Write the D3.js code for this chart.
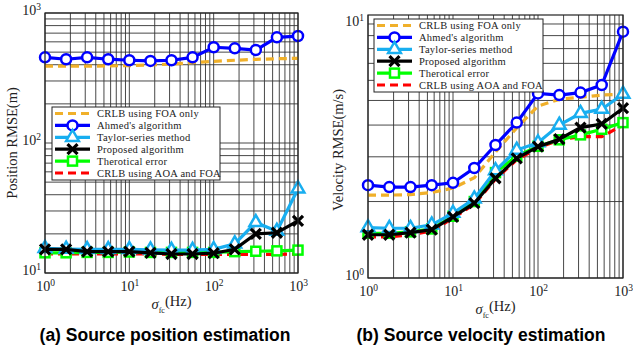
<!DOCTYPE html>
<html>
<head>
<meta charset="utf-8">
<script src="https://cdn.jsdelivr.net/npm/d3@7"></script>
<style>
  body { margin: 0; background: #fff; }
  svg { display: block; }
</style>
</head>
<body>
<svg id="chart" width="633" height="349"></svg>
<script>
// sigma_fc values (Hz), quarter decades from 1 to 1000
const sigmaFc = [1, 1.78, 3.16, 5.62, 10, 17.8, 31.6, 56.2, 100, 178, 316, 562, 1000];

// (a) position RMSE (m)
const posCrlbFoa  = [390, 390, 390, 392, 394, 398, 405, 415, 425, 433, 440, 445, 448];
const posAhmed    = [456, 441, 456, 441, 433, 428, 433, 456, 545, 535, 519, 650, 665];
const posTaylor   = [15.5, 15.3, 15.2, 15.2, 15.2, 15.1, 15.0, 15.0, 15.2, 16.8, 24.5, 21.0, 44.5];
const posProposed = [15.2, 15.2, 14.6, 14.6, 14.6, 14.3, 14.0, 14.0, 14.2, 15.2, 20.0, 20.4, 25.2];
const posTheory   = [14.3, 14.3, 14.4, 14.4, 14.5, 14.4, 14.4, 14.4, 14.4, 14.6, 14.7, 14.8, 15.0];
const posCrlbAoa  = [14.0, 14.0, 14.0, 14.0, 14.0, 14.0, 13.9, 13.9, 13.9, 13.9, 13.9, 13.9, 14.0];

// (b) velocity RMSE (m/s)
const velCrlbFoa  = [2.12, 2.12, 2.13, 2.17, 2.26, 2.48, 3.13, 3.9, 4.75, 5.05, 5.15, 5.25, 5.3];
const velAhmed    = [2.32, 2.28, 2.28, 2.32, 2.37, 2.71, 3.34, 4.09, 5.33, 5.25, 5.37, 5.75, 9.33];
const velTaylor   = [1.58, 1.57, 1.57, 1.62, 1.8, 2.05, 2.65, 3.19, 3.41, 4.0, 4.45, 4.62, 5.3];
const velProposed = [1.48, 1.48, 1.51, 1.55, 1.74, 1.97, 2.47, 2.96, 3.29, 3.52, 3.91, 4.04, 4.66];
const velTheory   = [1.5, 1.5, 1.52, 1.56, 1.75, 2.0, 2.6, 3.02, 3.3, 3.5, 3.66, 3.85, 4.09];
const velCrlbAoa  = [1.45, 1.45, 1.48, 1.53, 1.72, 1.95, 2.45, 2.92, 3.25, 3.5, 3.6, 3.6, 4.0];

const legendNames = ["CRLB using FOA only", "Ahmed's algorithm", "Taylor-series method",
  "Proposed algorithm", "Therotical error", "CRLB using AOA and FOA"];

// series styles, in legend order
const styles = [
  { color: "#f0b02a", dash: "8,5", marker: null },
  { color: "#0000ff", dash: null, marker: "circle" },
  { color: "#18aef0", dash: null, marker: "triangle" },
  { color: "#000000", dash: null, marker: "x" },
  { color: "#00ff00", dash: null, marker: "square" },
  { color: "#ff0000", dash: "8,5", marker: null }
];
// draw order: FOA, AOA, theory, Taylor, Ahmed, proposed
const drawOrder = [0, 5, 4, 2, 1, 3];

const svg = d3.select("#chart");

function drawMarker(g, type, color, cx, cy) {
  if (type === "circle") {
    g.append("circle").attr("cx", cx).attr("cy", cy).attr("r", 5)
      .attr("fill", "#fff").attr("stroke", color).attr("stroke-width", 2.5);
  } else if (type === "square") {
    g.append("rect").attr("x", cx - 4.5).attr("y", cy - 4.5).attr("width", 9).attr("height", 9)
      .attr("fill", "#fff").attr("stroke", color).attr("stroke-width", 2.5);
  } else if (type === "triangle") {
    g.append("path").attr("transform", `translate(${cx},${cy})`)
      .attr("d", d3.symbol(d3.symbolTriangle, 70)())
      .attr("fill", "#fff").attr("stroke", color).attr("stroke-width", 2.5);
  } else if (type === "x") {
    const s = 5;
    g.append("path").attr("d", `M${cx - s},${cy - s}L${cx + s},${cy + s}M${cx - s},${cy + s}L${cx + s},${cy - s}`)
      .attr("stroke", color).attr("stroke-width", 3.2).attr("fill", "none");
  }
}

function powLabel(sel, v) {
  const e = Math.round(Math.log10(v));
  sel.text(null);
  sel.append("tspan").text("10");
  sel.append("tspan").attr("dy", "-0.5em").attr("font-size", "9.5px").text(e);
}

function drawPanel(p) {
  const x = d3.scaleLog().domain([1, 1000]).range([p.left, p.right]);
  const y = d3.scaleLog().domain(p.yDomain).range([p.bottom, p.top]);
  const g = svg.append("g");

  // grid
  const grid = g.append("g").attr("stroke", "#333").attr("stroke-width", 0.9);
  grid.selectAll(".vx").data(x.ticks()).join("line")
    .attr("x1", d => x(d)).attr("x2", d => x(d)).attr("y1", p.top).attr("y2", p.bottom);
  grid.selectAll(".hy").data(y.ticks().filter(d => d >= p.yDomain[0] && d <= p.yDomain[1])).join("line")
    .attr("y1", d => y(d)).attr("y2", d => y(d)).attr("x1", p.left).attr("x2", p.right);

  // series
  const marks = g.append("g");
  drawOrder.forEach(i => {
    const st = styles[i];
    const vals = p.series[i];
    const pts = sigmaFc.map((s, k) => [x(s), y(vals[k])]);
    marks.append("path").attr("d", d3.line()(pts))
      .attr("fill", "none").attr("stroke", st.color).attr("stroke-width", 3.2)
      .attr("stroke-dasharray", st.dash);
    if (st.marker) pts.forEach(pt => drawMarker(marks, st.marker, st.color, pt[0], pt[1]));
  });

  // frame
  g.append("rect").attr("x", p.left).attr("y", p.top)
    .attr("width", p.right - p.left).attr("height", p.bottom - p.top)
    .attr("fill", "none").attr("stroke", "#222").attr("stroke-width", 1.2);

  // axes labels (powers of ten)
  const xAxis = g.append("g").attr("transform", `translate(0,${p.bottom})`)
    .call(d3.axisBottom(x).tickValues([1, 10, 100, 1000]).tickSize(0).tickPadding(8));
  xAxis.select(".domain").remove();
  xAxis.selectAll("text").attr("font-family", "Liberation Serif").attr("font-size", 14)
    .attr("fill", "#222").each(function (d) { powLabel(d3.select(this), d); });

  const yAxis = g.append("g").attr("transform", `translate(${p.left},0)`)
    .call(d3.axisLeft(y).tickValues(p.yTicks).tickSize(0).tickPadding(4));
  yAxis.select(".domain").remove();
  yAxis.selectAll("text").attr("font-family", "Liberation Serif").attr("font-size", 14)
    .attr("fill", "#222").attr("dy", "0.1em").each(function (d) { powLabel(d3.select(this), d); });

  // axis titles
  const xt = g.append("text").attr("x", (p.left + p.right) / 2).attr("y", p.bottom + 36)
    .attr("text-anchor", "middle").attr("font-family", "Liberation Serif").attr("font-size", 14.5)
    .attr("fill", "#222");
  xt.append("tspan").attr("font-style", "italic").text("σ");
  xt.append("tspan").attr("font-size", "8px").attr("dy", "0.45em").text("fc");
  xt.append("tspan").attr("dy", "-0.45em").text("(Hz)");

  g.append("text").attr("transform", `translate(${p.yTitleX},${p.yTitleY}) rotate(-90)`)
    .attr("text-anchor", "middle").attr("font-family", "Liberation Serif").attr("font-size", 14.5)
    .attr("fill", "#222").text(p.yTitle);

  // caption
  g.append("text").attr("x", p.capX).attr("y", 341)
    .attr("text-anchor", "middle").attr("font-family", "Liberation Sans").attr("font-weight", "bold")
    .attr("font-size", 17.5).attr("fill", "#000").text(p.caption);

  // legend
  const lg = g.append("g").attr("transform", `translate(${p.legX},${p.legY})`);
  lg.append("rect").attr("width", p.legW).attr("height", 73)
    .attr("fill", "#fff").attr("stroke", "#222").attr("stroke-width", 1);
  legendNames.forEach((name, i) => {
    const st = styles[i];
    const ry = 6.5 + i * 11.9;
    lg.append("line").attr("x1", 3).attr("x2", 38).attr("y1", ry).attr("y2", ry)
      .attr("stroke", st.color).attr("stroke-width", 3.2).attr("stroke-dasharray", st.dash);
    if (st.marker) drawMarker(lg, st.marker, st.color, 20.5, ry);
    lg.append("text").attr("x", 45).attr("y", ry + 3.8)
      .attr("font-family", "Liberation Serif").attr("font-size", 10.5)
      .attr("letter-spacing", "0.25px").attr("fill", "#222").text(name);
  });
}

drawPanel({
  left: 45, right: 298, top: 13, bottom: 273,
  yDomain: [10, 1000], yTicks: [10, 100, 1000],
  series: [posCrlbFoa, posAhmed, posTaylor, posProposed, posTheory, posCrlbAoa],
  yTitle: "Position RMSE(m)", yTitleX: 17, yTitleY: 143,
  caption: "(a) Source position estimation", capX: 165,
  legX: 52, legY: 107, legW: 168
});

drawPanel({
  left: 368, right: 623, top: 15, bottom: 278,
  yDomain: [1, 10.85], yTicks: [1, 10],
  series: [velCrlbFoa, velAhmed, velTaylor, velProposed, velTheory, velCrlbAoa],
  yTitle: "Velocity RMSE(m/s)", yTitleX: 343, yTitleY: 150,
  caption: "(b) Source velocity estimation", capX: 481,
  legX: 374, legY: 19, legW: 169
});
</script>
</body>
</html>
